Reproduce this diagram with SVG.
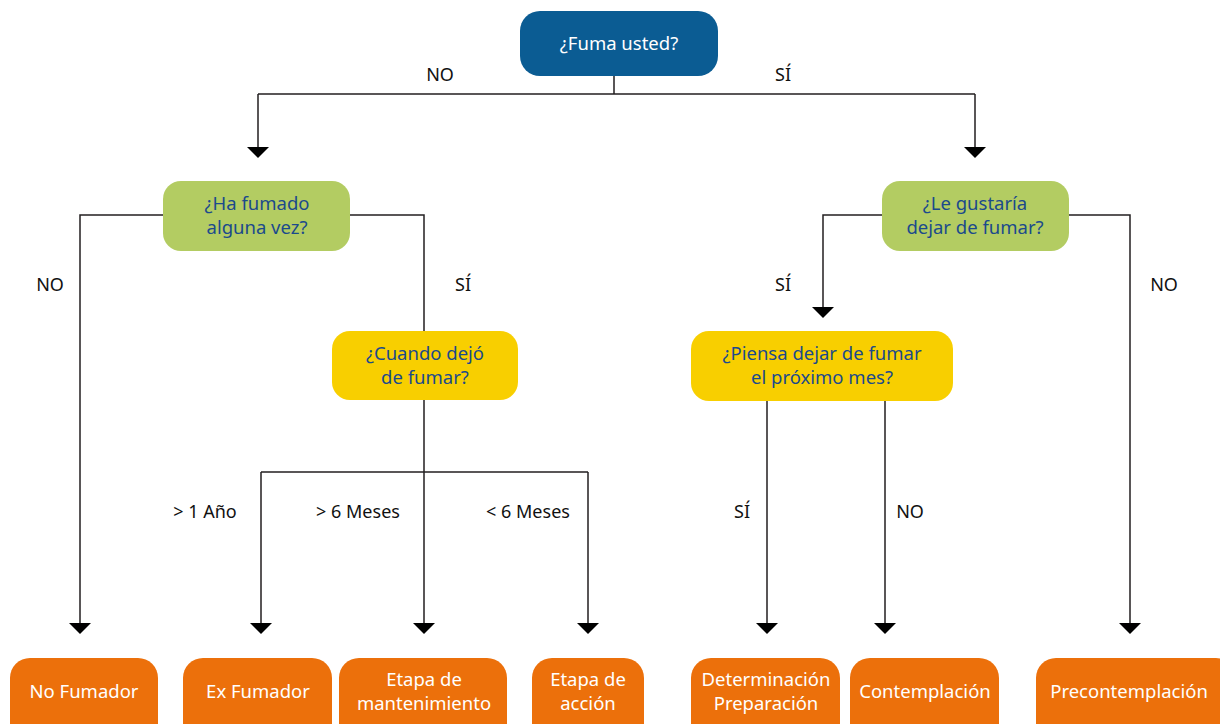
<svg xmlns="http://www.w3.org/2000/svg" width="1220" height="724" viewBox="0 0 1220 724">
<style>
.q1{fill:#0b5c93}
.qg{fill:#b3cc62}
.qy{fill:#f8cf00}
.lf{fill:#ec700b}
.tw{font-family:"Noto Sans","Liberation Sans",sans-serif;font-size:18.5px;fill:#ffffff;text-anchor:middle}
.tb{font-family:"Noto Sans","Liberation Sans",sans-serif;font-size:18.5px;fill:#1b4a8c;text-anchor:middle}
.lb{font-family:"Noto Sans","Liberation Sans",sans-serif;font-size:18px;fill:#111;text-anchor:middle}
.ln{fill:none;stroke:#231f20;stroke-width:1.5}
.ah{fill:#000}
</style>
<rect width="1220" height="724" fill="#ffffff"/>
<g id="connectors">
<path class="ln" d="M614 76 V94 M258 94 H975 M258 94 V148 M975 94 V148"/>
<path class="ln" d="M163 215 H80 V624 M350 215 H424 V331"/>
<path class="ln" d="M424 400 V624 M261 472 H588 M261 472 V624 M588 472 V624"/>
<path class="ln" d="M882 215 H823 V308 M1069 215 H1130 V624"/>
<path class="ln" d="M767 401 V624 M885 401 V624"/>
<polygon class="ah" points="247,147 269,147 258,158"/>
<polygon class="ah" points="964,147 986,147 975,158"/>
<polygon class="ah" points="812,307 834,307 823,318"/>
<polygon class="ah" points="69,623 91,623 80,634"/>
<polygon class="ah" points="250,623 272,623 261,634"/>
<polygon class="ah" points="413,623 435,623 424,634"/>
<polygon class="ah" points="577,623 599,623 588,634"/>
<polygon class="ah" points="756,623 778,623 767,634"/>
<polygon class="ah" points="874,623 896,623 885,634"/>
<polygon class="ah" points="1119,623 1141,623 1130,634"/>
<text class="lb" x="440" y="81">NO</text>
<text class="lb" x="783" y="81">SÍ</text>
<text class="lb" x="50" y="291">NO</text>
<text class="lb" x="463" y="291">SÍ</text>
<text class="lb" x="783" y="291">SÍ</text>
<text class="lb" x="1164" y="291">NO</text>
<text class="lb" x="205" y="518">&gt; 1 Año</text>
<text class="lb" x="358" y="518">&gt; 6 Meses</text>
<text class="lb" x="528" y="518">&lt; 6 Meses</text>
<text class="lb" x="742" y="518">SÍ</text>
<text class="lb" x="910" y="518">NO</text>
</g>
<g id="q-fuma">
<rect class="q1" x="520" y="11" width="198" height="65" rx="20"/>
<text class="tw" x="619" y="50">¿Fuma usted?</text>
</g>
<g id="q-ha-fumado">
<rect class="qg" x="163" y="181" width="187" height="70" rx="18"/>
<text class="tb" x="257" y="210">¿Ha fumado</text>
<text class="tb" x="257" y="234">alguna vez?</text>
</g>
<g id="q-gustaria">
<rect class="qg" x="882" y="181" width="187" height="70" rx="18"/>
<text class="tb" x="975" y="210">¿Le gustaría</text>
<text class="tb" x="975" y="234">dejar de fumar?</text>
</g>
<g id="q-cuando">
<rect class="qy" x="332" y="331" width="186" height="69" rx="18"/>
<text class="tb" x="425" y="360">¿Cuando dejó</text>
<text class="tb" x="425" y="384">de fumar?</text>
</g>
<g id="q-piensa">
<rect class="qy" x="691" y="331" width="262" height="70" rx="18"/>
<text class="tb" x="822" y="360">¿Piensa dejar de fumar</text>
<text class="tb" x="822" y="384">el próximo mes?</text>
</g>
<g id="l-no-fumador">
<rect class="lf" x="10" y="658" width="148" height="90" rx="20"/>
<text class="tw" x="84" y="698">No Fumador</text>
</g>
<g id="l-ex-fumador">
<rect class="lf" x="183" y="658" width="149" height="90" rx="20"/>
<text class="tw" x="258" y="698">Ex Fumador</text>
</g>
<g id="l-mantenimiento">
<rect class="lf" x="339" y="658" width="168" height="90" rx="20"/>
<text class="tw" x="424" y="686">Etapa de</text>
<text class="tw" x="424" y="710">mantenimiento</text>
</g>
<g id="l-accion">
<rect class="lf" x="532" y="658" width="112" height="90" rx="20"/>
<text class="tw" x="588" y="686">Etapa de</text>
<text class="tw" x="588" y="710">acción</text>
</g>
<g id="l-determinacion">
<rect class="lf" x="691" y="658" width="149" height="90" rx="20"/>
<text class="tw" x="766" y="686">Determinación</text>
<text class="tw" x="766" y="710">Preparación</text>
</g>
<g id="l-contemplacion">
<rect class="lf" x="850" y="658" width="149" height="90" rx="20"/>
<text class="tw" x="925" y="698">Contemplación</text>
</g>
<g id="l-precontemplacion">
<rect class="lf" x="1036" y="658" width="200" height="90" rx="20"/>
<text class="tw" x="1129" y="698">Precontemplación</text>
</g>
</svg>
